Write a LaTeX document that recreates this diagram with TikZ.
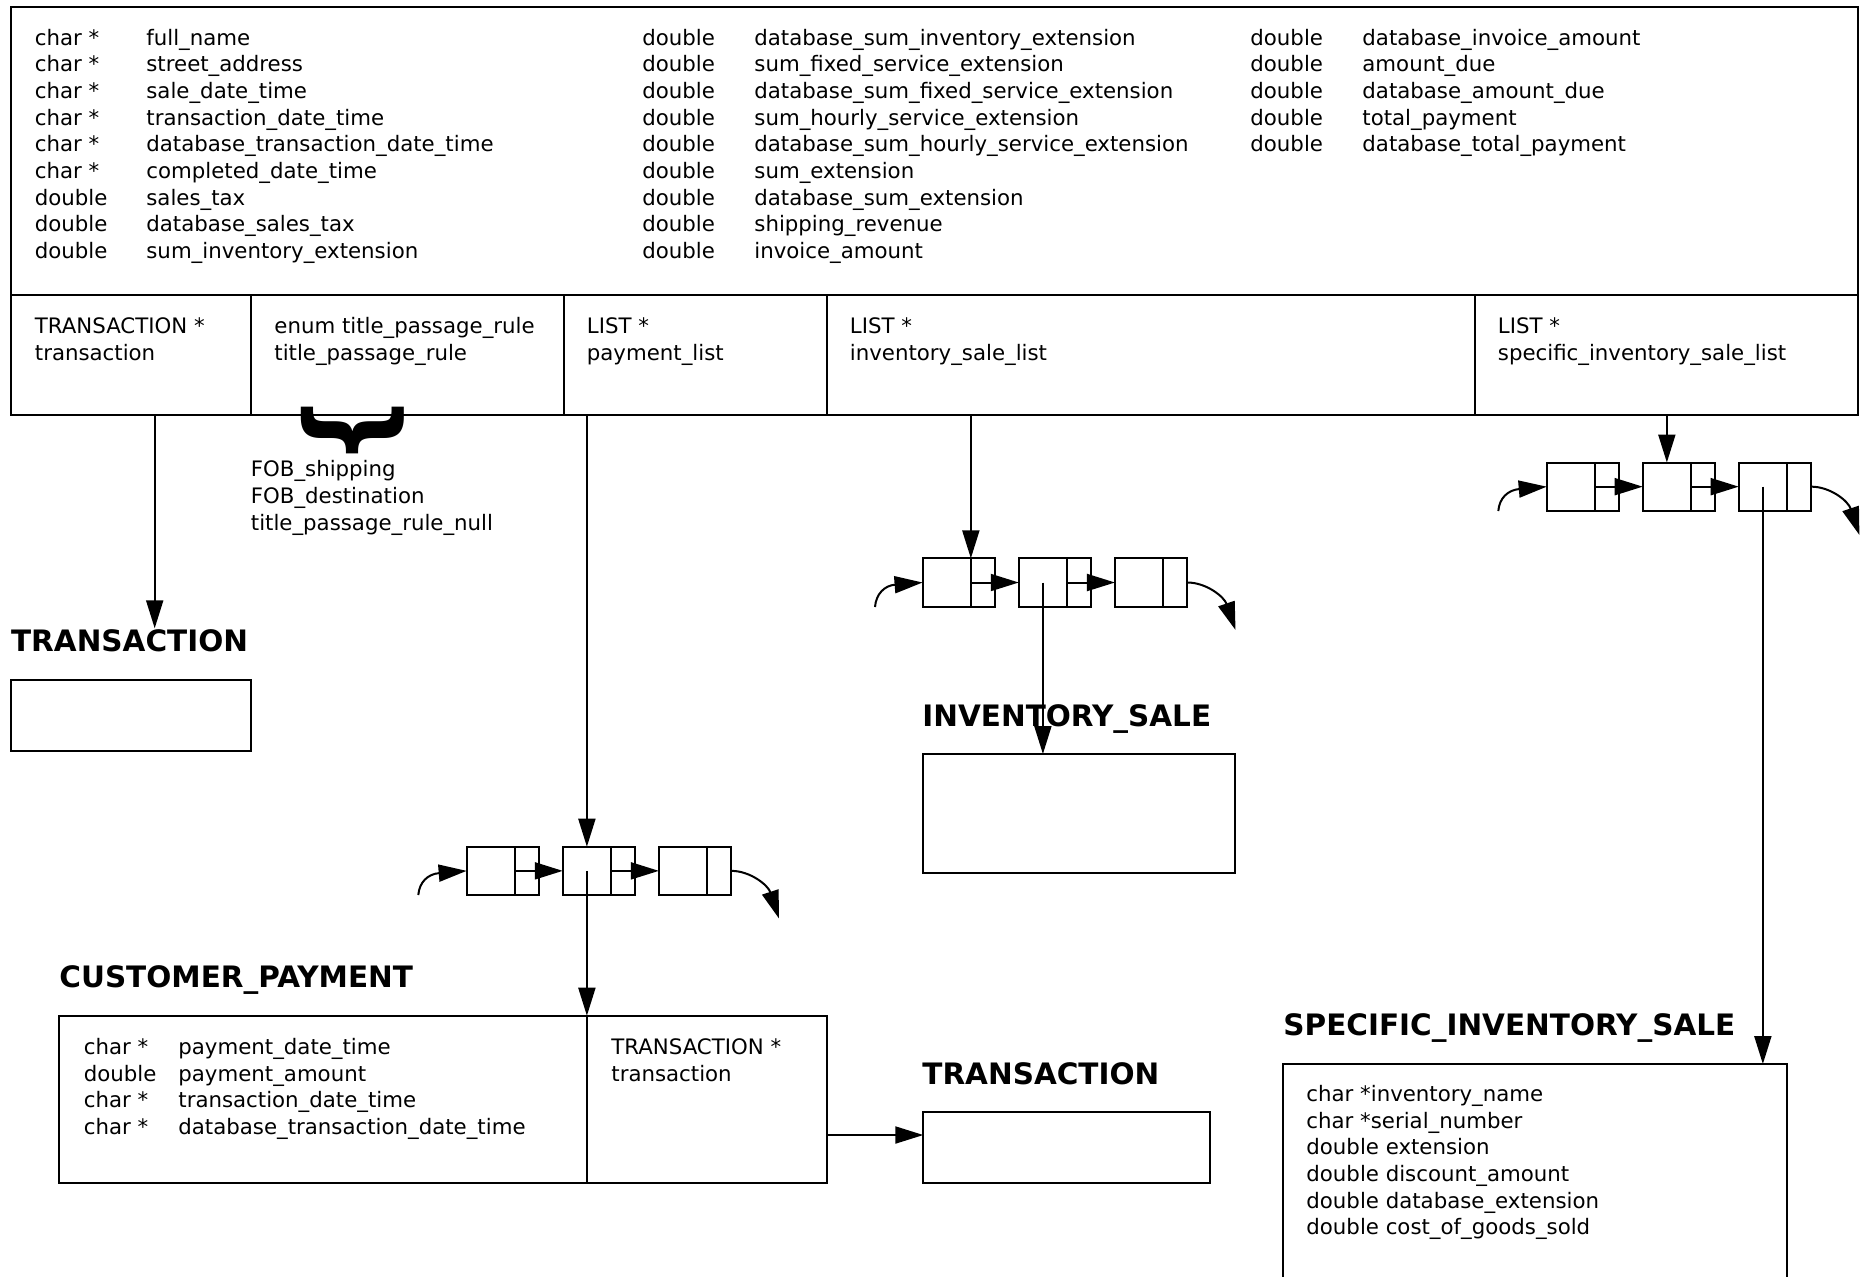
\documentclass[tikz,border=0pt]{standalone}
\usepackage{fontspec}
\setmainfont{DejaVu Sans}
\usepackage{graphicx}
\usetikzlibrary{arrows.meta,fit}
\begin{document}
\begin{tikzpicture}[x=0.5pt,y=-0.5pt,
  box/.style={draw, line width=1pt, inner sep=0pt, outer sep=0pt},
  lbl/.style={anchor=base west, inner sep=0pt, font=\fontsize{10.65}{13}\selectfont},
  hd/.style={anchor=base west, inner sep=0pt, font=\fontsize{14.75}{17}\selectfont\bfseries},
  arr/.style={line width=1pt, -{Triangle[length=14pt,width=8.5pt]}},
  cellL/.style={box, minimum width=24.15pt, minimum height=24.15pt},
  cellR/.style={box, minimum width=12.1pt, minimum height=24.15pt, anchor=west},
]
\useasboundingbox (0,0) rectangle (1868,1276);
\clip (0,0) rectangle (1868,1276);

% ---------- main structure box ----------
\coordinate (m1) at (10.7,6.7);   \coordinate (m2) at (1858,295);
\node[box, fit=(m1)(m2)] (maintop) {};
\coordinate (c1a) at (10.7,295);  \coordinate (c1b) at (251.4,415);
\coordinate (c2a) at (251.4,295); \coordinate (c2b) at (563.5,415);
\coordinate (c3a) at (563.5,295); \coordinate (c3b) at (826.8,415);
\coordinate (c4a) at (826.8,295); \coordinate (c4b) at (1474.8,415);
\coordinate (c5a) at (1474.8,295);\coordinate (c5b) at (1858,415);
\node[box, fit=(c1a)(c1b)] (c1) {};
\node[box, fit=(c2a)(c2b)] (c2) {};
\node[box, fit=(c3a)(c3b)] (c3) {};
\node[box, fit=(c4a)(c4b)] (c4) {};
\node[box, fit=(c5a)(c5b)] (c5) {};

% fields, column group 1
\foreach \ty/\nm [count=\i] in {char */full\_name, char */street\_address, char */sale\_date\_time,
  char */transaction\_date\_time, char */database\_transaction\_date\_time, char */completed\_date\_time,
  double/sales\_tax, double/database\_sales\_tax, double/sum\_inventory\_extension}{
  \node[lbl] (ga\i) at (34.5,{18.3+26.7*\i}) {\ty};
  \node[lbl] (gb\i) at (146,{18.3+26.7*\i}) {\nm};
}
% column group 2
\foreach \nm [count=\i] in {database\_sum\_inventory\_extension, sum\_fixed\_service\_extension,
  database\_sum\_fixed\_service\_extension, sum\_hourly\_service\_extension,
  database\_sum\_hourly\_service\_extension, sum\_extension, database\_sum\_extension,
  shipping\_revenue, invoice\_amount}{
  \node[lbl] (ha\i) at (642,{18.3+26.7*\i}) {double};
  \node[lbl] (hb\i) at (754,{18.3+26.7*\i}) {\nm};
}
% column group 3
\foreach \nm [count=\i] in {database\_invoice\_amount, amount\_due, database\_amount\_due,
  total\_payment, database\_total\_payment}{
  \node[lbl] (ka\i) at (1250,{18.3+26.7*\i}) {double};
  \node[lbl] (kb\i) at (1362,{18.3+26.7*\i}) {\nm};
}

% bottom row cells
\node[lbl] (t1a) at (34.5,333.3) {TRANSACTION *};
\node[lbl] (t1b) at (34.5,360) {transaction};
\node[lbl] (t2a) at (274,333.3) {enum title\_passage\_rule};
\node[lbl] (t2b) at (274,360) {title\_passage\_rule};
\node[lbl] (t3a) at (586.5,333.3) {LIST *};
\node[lbl] (t3b) at (586.5,360) {payment\_list};
\node[lbl] (t4a) at (849.5,333.3) {LIST *};
\node[lbl] (t4b) at (849.5,360) {inventory\_sale\_list};
\node[lbl] (t5a) at (1497.5,333.3) {LIST *};
\node[lbl] (t5b) at (1497.5,360) {specific\_inventory\_sale\_list};

% enum brace and values
\node[inner sep=0pt] (brace) at (352.5,430) {\resizebox*{51.5pt}{36pt}{\rotatebox{-90}{\bfseries\}}}};
\node[lbl] (e1) at (250.5,476.7) {FOB\_shipping};
\node[lbl] (e2) at (250.5,503.4) {FOB\_destination};
\node[lbl] (e3) at (250.5,530.1) {title\_passage\_rule\_null};

% ---------- TRANSACTION (1) ----------
\node[hd] (tr1h) at (10.7,651) {TRANSACTION};
\coordinate (tr1a) at (10.7,680); \coordinate (tr1b) at (251,751);
\node[box, fit=(tr1a)(tr1b)] (tr1box) {};
\coordinate (tr1tip) at (154.7,628.3);
\draw[arr] (c1.south -| tr1tip) -- (tr1tip);

% ---------- payment list ----------
\node[cellL] (p1a) at (490.8,870.85) {};
\node[cellR] (p1b) at (p1a.east) {};
\node[cellL] (p2a) at (586.9,870.85) {};
\node[cellR] (p2b) at (p2a.east) {};
\node[cellL] (p3a) at (683.0,870.85) {};
\node[cellR] (p3b) at (p3a.east) {};
\draw[arr] (p1b.west) -- (p2a.west);
\draw[arr] (p2b.west) -- (p3a.west);
\coordinate (pin) at (418.3,895);
\coordinate (pout) at (779,918.5);
\draw[arr] (pin) .. controls (419.3,882) and (428,874) .. (p1a.west);
\draw[arr] (p3b.east) .. controls (750,870.85) and (768,885) .. (pout);
\draw[arr] (c3.south -| p2a.center) -- (p2a.north);

% ---------- CUSTOMER_PAYMENT ----------
\node[hd] (cph) at (59,987.5) {CUSTOMER\_PAYMENT};
\coordinate (cpa) at (59.1,1015.7); \coordinate (cpb) at (826.6,1183.3);
\node[box, fit=(cpa)(cpb)] (cpbox) {};
\draw[line width=0.7pt] (cpbox.north -| p2a.center) -- (cpbox.south -| p2a.center);
\draw[arr] (p2a.center) -- (p2a.center |- cpbox.north);
\foreach \ty/\nm [count=\i] in {char */payment\_date\_time, double/payment\_amount,
  char */transaction\_date\_time, char */database\_transaction\_date\_time}{
  \node[lbl] (cpt\i) at (83.5,{1027.6+26.7*\i}) {\ty};
  \node[lbl] (cpn\i) at (178,{1027.6+26.7*\i}) {\nm};
}
\node[lbl] (cpx1) at (611,1054.3) {TRANSACTION *};
\node[lbl] (cpx2) at (611,1081) {transaction};

% ---------- TRANSACTION (2) ----------
\node[hd] (tr2h) at (922,1084) {TRANSACTION};
\coordinate (tr2a) at (923.3,1111.5); \coordinate (tr2b) at (1210.4,1183);
\node[box, fit=(tr2a)(tr2b)] (tr2box) {};
\coordinate (cparr) at (826.6,1135);
\draw[arr] (cpbox.east |- cparr) -- (tr2box.west |- cparr);

% ---------- inventory list ----------
\node[cellL] (i1a) at (946.7,582.5) {};
\node[cellR] (i1b) at (i1a.east) {};
\node[cellL] (i2a) at (1042.9,582.5) {};
\node[cellR] (i2b) at (i2a.east) {};
\node[cellL] (i3a) at (1139.1,582.5) {};
\node[cellR] (i3b) at (i3a.east) {};
\draw[arr] (i1b.west) -- (i2a.west);
\draw[arr] (i2b.west) -- (i3a.west);
\coordinate (iin) at (875,607);
\coordinate (iout) at (1235.5,630);
\draw[arr] (iin) .. controls (876,594) and (884.5,585.5) .. (i1a.west);
\draw[arr] (i3b.east) .. controls (1206,582.5) and (1224,596.5) .. (iout);
\draw[arr] (c4.south -| i1b.west) -- (i1b.north west);

% ---------- INVENTORY_SALE ----------
\node[hd] (invh) at (922,726) {INVENTORY\_SALE};
\coordinate (inva) at (923.3,754); \coordinate (invb) at (1235,873.3);
\node[box, fit=(inva)(invb)] (invbox) {};
\draw[arr] (i2a.center) -- (i2a.center |- invbox.north);

% ---------- specific inventory list ----------
\node[cellL] (s1a) at (1570.85,486.65) {};
\node[cellR] (s1b) at (s1a.east) {};
\node[cellL] (s2a) at (1666.85,486.65) {};
\node[cellR] (s2b) at (s2a.east) {};
\node[cellL] (s3a) at (1762.85,486.65) {};
\node[cellR] (s3b) at (s3a.east) {};
\draw[arr] (s1b.west) -- (s2a.west);
\draw[arr] (s2b.west) -- (s3a.west);
\coordinate (sin) at (1498.3,511);
\coordinate (sout) at (1859.4,535);
\draw[arr] (sin) .. controls (1499.3,498) and (1508,490) .. (s1a.west);
\draw[arr] (s3b.east) .. controls (1830,486.65) and (1848,500.6) .. (sout);
\draw[arr] (c5.south -| s2a.center) -- (s2a.north);

% ---------- SPECIFIC_INVENTORY_SALE ----------
\node[hd] (sish) at (1283,1035) {SPECIFIC\_INVENTORY\_SALE};
\coordinate (sisa) at (1282.5,1064); \coordinate (sisb) at (1787.3,1300);
\node[box, fit=(sisa)(sisb)] (sisbox) {};
\draw[arr] (s3a.center) -- (s3a.center |- sisbox.north);
\foreach \nm [count=\i] in {char *inventory\_name, char *serial\_number, double extension,
  double discount\_amount, double database\_extension, double cost\_of\_goods\_sold}{
  \node[lbl] (sist\i) at (1306,{1075.1+26.6*\i}) {\nm};
}
\end{tikzpicture}
\end{document}
